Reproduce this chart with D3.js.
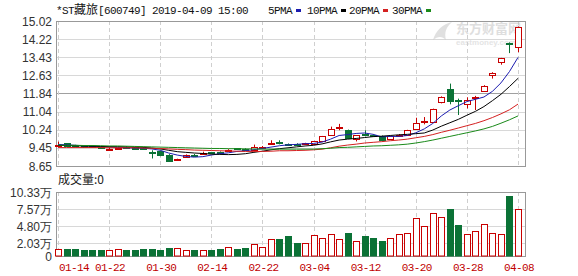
<!DOCTYPE html>
<html>
<head>
<meta charset="utf-8">
<script src="https://cdn.jsdelivr.net/npm/d3@7"></script>
<style>
  body { margin: 0; background: #fff; }
</style>
</head>
<body>
<div id="chart"></div>
<script>
// trading days shown (2019)
var dates = ["01-14","01-15","01-16","01-17","01-18","01-21","01-22","01-23","01-24","01-25",
  "01-28","01-29","01-30","01-31","02-01","02-11","02-12","02-13","02-14","02-15",
  "02-18","02-19","02-20","02-21","02-22","02-25","02-26","02-27","02-28","03-01",
  "03-04","03-05","03-06","03-07","03-08","03-11","03-12","03-13","03-14","03-15",
  "03-18","03-19","03-20","03-21","03-22","03-25","03-26","03-27","03-28","03-29",
  "04-01","04-02","04-03","04-04","04-08"];

var opens = [9.56,9.65,9.56,9.53,9.51,9.50,9.40,9.42,9.50,9.49,
  9.46,9.28,9.30,9.15,8.92,9.04,9.14,9.20,9.25,9.26,
  9.32,9.42,9.41,9.36,9.46,9.64,9.70,9.62,9.62,9.60,
  9.62,9.73,10.02,10.31,10.21,9.84,10.04,10.01,9.97,9.83,
  9.98,10.03,10.26,10.60,10.60,11.47,12.05,11.56,11.36,11.62,
  11.94,12.63,13.24,14.06,13.87];
var highs = [9.72,9.66,9.58,9.55,9.54,9.52,9.47,9.48,9.52,9.51,
  9.48,9.34,9.32,9.17,8.97,9.16,9.18,9.28,9.27,9.29,
  9.39,9.44,9.43,9.59,9.53,9.78,9.78,9.64,9.65,9.67,
  9.75,9.97,10.38,10.50,10.25,10.01,10.22,10.04,9.99,9.97,
  10.05,10.24,10.77,10.80,11.17,11.71,12.27,11.61,11.67,11.73,
  12.20,12.77,13.40,14.08,14.78];
var lows = [9.46,9.53,9.49,9.47,9.45,9.44,9.37,9.40,9.44,9.39,
  9.38,8.98,9.08,8.85,8.89,9.02,9.08,9.17,9.18,9.20,
  9.30,9.36,9.35,9.34,9.43,9.60,9.60,9.55,9.56,9.58,
  9.60,9.70,10.00,10.22,9.85,9.73,9.96,9.94,9.78,9.80,
  9.95,10.00,10.24,10.48,10.58,11.40,11.36,10.89,11.18,11.11,
  11.92,12.49,13.10,13.61,13.65];
var closes = [9.58,9.55,9.52,9.50,9.48,9.47,9.41,9.45,9.46,9.41,
  9.44,9.25,9.12,8.88,8.94,9.14,9.11,9.24,9.21,9.24,
  9.36,9.39,9.38,9.47,9.50,9.68,9.66,9.58,9.59,9.64,
  9.73,9.95,10.26,10.35,9.87,9.99,10.01,9.98,9.80,9.95,
  10.02,10.21,10.56,10.64,11.15,11.69,11.50,11.52,11.54,11.66,
  12.17,12.75,13.39,14.03,14.75];

// volume, in 万
var volumes = [1.18,1.18,1.18,1.02,1.02,1.02,0.96,1.15,1.02,1.02,
  1.15,1.15,1.02,1.34,1.29,0.96,1.02,0.96,1.02,1.18,
  1.45,1.18,1.34,1.88,1.45,2.68,2.79,3.22,2.14,2.09,
  3.32,2.89,3.48,2.68,3.70,2.41,3.22,2.89,2.41,2.84,
  3.48,3.70,6.06,4.77,6.86,6.22,7.61,4.98,3.48,4.02,
  5.09,3.64,3.48,9.65,7.66];

// moving averages
var ma5 = [9.60,9.58,9.56,9.54,9.53,9.50,9.48,9.46,9.45,9.44,
  9.43,9.40,9.34,9.22,9.13,9.07,9.04,9.06,9.13,9.19,
  9.23,9.29,9.32,9.37,9.42,9.48,9.54,9.58,9.60,9.63,
  9.64,9.70,9.83,9.99,10.03,10.08,10.10,10.04,9.93,9.95,
  9.95,9.99,10.11,10.28,10.52,10.85,11.11,11.30,11.48,11.58,
  11.68,11.93,12.30,12.80,13.42];
var ma10 = [9.55,9.55,9.54,9.53,9.52,9.51,9.50,9.50,9.49,9.48,
  9.47,9.44,9.40,9.34,9.28,9.25,9.22,9.20,9.17,9.16,
  9.15,9.16,9.19,9.25,9.30,9.36,9.41,9.45,9.49,9.53,
  9.56,9.62,9.71,9.79,9.83,9.86,9.90,9.94,9.96,9.99,
  10.02,10.04,10.07,10.10,10.23,10.40,10.55,10.70,10.88,11.05,
  11.26,11.52,11.80,12.14,12.50];
var ma20 = [9.46,9.46,9.46,9.46,9.46,9.46,9.45,9.45,9.45,9.45,
  9.44,9.43,9.42,9.40,9.38,9.37,9.35,9.34,9.33,9.32,
  9.31,9.30,9.29,9.29,9.29,9.30,9.32,9.32,9.33,9.34,
  9.36,9.39,9.45,9.52,9.57,9.61,9.66,9.69,9.72,9.76,
  9.79,9.83,9.89,9.95,10.03,10.13,10.22,10.32,10.42,10.52,
  10.64,10.78,10.94,11.12,11.37];
var ma30 = [9.57,9.56,9.56,9.55,9.55,9.54,9.53,9.53,9.52,9.51,
  9.50,9.49,9.48,9.47,9.46,9.45,9.44,9.43,9.42,9.42,
  9.41,9.41,9.40,9.40,9.39,9.39,9.39,9.39,9.39,9.39,
  9.39,9.41,9.43,9.46,9.47,9.49,9.51,9.53,9.54,9.56,
  9.58,9.61,9.66,9.72,9.79,9.87,9.95,10.03,10.11,10.19,
  10.28,10.39,10.53,10.68,10.85];

var priceTicks = [15.02, 14.22, 13.43, 12.63, 11.84, 11.04, 10.24, 9.45, 8.65];
var volTicks = [10.33, 7.57, 4.80, 2.03, 0];
var xLabels = ["01-14","01-22","01-30","02-14","02-22","03-04","03-12","03-20","03-28","04-08"];

var maNames = ["5PMA", "10PMA", "20PMA", "30PMA"];
var maColors = ["#1c1cb0", "#000000", "#d42020", "#1a8a1a"];

var upColor = "#c80000",
  downColor = "#0b7236",
  monoFont = "'Liberation Mono', 'DejaVu Sans Mono', monospace",
  numFont = "'Liberation Sans', Arial, sans-serif",
  cjkFont = "'Noto Sans CJK SC', sans-serif";

var W = 578, H = 276;
var plot = { left: 56, right: 525, top: 21, bottom: 166 };
var vplot = { top: 192, bottom: 256 };

var svg = d3
  .select("#chart")
  .append("svg")
  .attr("width", W)
  .attr("height", H)
  .style("display", "block");

svg.append("rect").attr("width", W).attr("height", H).attr("fill", "#fff");

var x = d3.scalePoint().domain(dates).range([58, 518]);
var yPrice = d3.scaleLinear().domain([8.65, 15.02]).range([plot.bottom, plot.top]);
var yVol = d3.scaleLinear().domain([0, 10.33]).range([vplot.bottom, vplot.top]);

function crisp(v) {
  return Math.round(v) + 0.5;
}

// ---------- grids ----------
svg
  .append("g")
  .selectAll("line")
  .data(priceTicks)
  .enter()
  .append("line")
  .attr("x1", plot.left)
  .attr("x2", plot.right)
  .attr("y1", function (d) { return crisp(yPrice(d)); })
  .attr("y2", function (d) { return crisp(yPrice(d)); })
  .attr("stroke", function (d, i) { return i == 4 ? "#a0a0a0" : "#d8d8d8"; })
  .attr("stroke-width", 1);

svg
  .append("g")
  .selectAll("line")
  .data(volTicks)
  .enter()
  .append("line")
  .attr("x1", plot.left)
  .attr("x2", plot.right)
  .attr("y1", function (d) { return crisp(yVol(d)); })
  .attr("y2", function (d) { return crisp(yVol(d)); })
  .attr("stroke", "#d8d8d8")
  .attr("stroke-width", 1);

var vgrid = svg.append("g");
[[plot.top, plot.bottom], [vplot.top, vplot.bottom]].forEach(function (r) {
  vgrid
    .append("g")
    .selectAll("line")
    .data(xLabels)
    .enter()
    .append("line")
    .attr("x1", function (d) { return crisp(x(d)); })
    .attr("x2", function (d) { return crisp(x(d)); })
    .attr("y1", r[0])
    .attr("y2", r[1])
    .attr("stroke", "#cfcfcf")
    .attr("stroke-dasharray", "4,3");
});

// frames
svg
  .append("rect")
  .attr("x", plot.left + 0.5)
  .attr("y", plot.top + 0.5)
  .attr("width", plot.right - plot.left)
  .attr("height", plot.bottom - plot.top)
  .attr("fill", "none")
  .attr("stroke", "#999");
svg
  .append("rect")
  .attr("x", plot.left + 0.5)
  .attr("y", vplot.top + 0.5)
  .attr("width", plot.right - plot.left)
  .attr("height", vplot.bottom - vplot.top)
  .attr("fill", "none")
  .attr("stroke", "#999");

// ---------- watermark ----------
var wm = svg.append("g").attr("opacity", 0.55);
wm.append("path")
  .attr("d", "M433,40 C436,30 443,24 452,22 C446,27 444,33 446,40 C442,36 438,36 433,40 Z")
  .attr("fill", "#c8c8c8");
wm.append("text")
  .attr("x", 456)
  .attr("y", 33)
  .attr("font-family", cjkFont)
  .attr("font-weight", "bold")
  .attr("font-size", 13)
  .attr("fill", "#c4c4c4")
  .text("东方财富网");
wm.append("text")
  .attr("x", 456)
  .attr("y", 45)
  .attr("font-family", numFont)
  .attr("font-weight", "bold")
  .attr("font-size", 8)
  .attr("fill", "#cfcfcf")
  .text("eastmoney.com");

// ---------- candles ----------
var candles = svg.append("g");
dates.forEach(function (d, i) {
  var up = closes[i] >= opens[i];
  var col = up ? upColor : downColor;
  var cx = crisp(x(d));
  candles
    .append("line")
    .attr("x1", cx)
    .attr("x2", cx)
    .attr("y1", yPrice(highs[i]))
    .attr("y2", yPrice(lows[i]))
    .attr("stroke", col);
  var top = Math.round(yPrice(Math.max(opens[i], closes[i])));
  var bot = Math.round(yPrice(Math.min(opens[i], closes[i])));
  var h = Math.max(bot - top, 1);
  if (up) {
    candles
      .append("rect")
      .attr("x", cx - 3)
      .attr("y", top + 0.5)
      .attr("width", 6)
      .attr("height", h)
      .attr("fill", "#fff")
      .attr("stroke", col);
  } else {
    candles
      .append("rect")
      .attr("x", cx - 3.5)
      .attr("y", top)
      .attr("width", 7)
      .attr("height", h + 1)
      .attr("fill", col);
  }
});

// ---------- moving averages ----------
[ma5, ma10, ma20, ma30].forEach(function (arr, k) {
  var line = d3
    .line()
    .x(function (v, i) { return x(dates[i]); })
    .y(function (v) { return yPrice(v); });
  svg
    .append("path")
    .datum(arr)
    .attr("d", line)
    .attr("fill", "none")
    .attr("stroke", maColors[k])
    .attr("stroke-width", 1);
});

// ---------- volume ----------
var vbars = svg.append("g");
dates.forEach(function (d, i) {
  var up = closes[i] >= opens[i];
  var cx = crisp(x(d));
  var top = Math.round(yVol(volumes[i]));
  if (up) {
    vbars
      .append("rect")
      .attr("x", cx - 3)
      .attr("y", top + 0.5)
      .attr("width", 6)
      .attr("height", vplot.bottom - top - 0.5)
      .attr("fill", "#fff")
      .attr("stroke", upColor);
  } else {
    vbars
      .append("rect")
      .attr("x", cx - 3.5)
      .attr("y", top)
      .attr("width", 7)
      .attr("height", vplot.bottom - top + 0.5)
      .attr("fill", downColor);
  }
});

// ---------- axis labels ----------
svg
  .append("g")
  .selectAll("text")
  .data(priceTicks)
  .enter()
  .append("text")
  .attr("x", 52)
  .attr("y", function (d) { return yPrice(d) + 4.5; })
  .attr("text-anchor", "end")
  .attr("font-family", numFont)
  .attr("font-size", 12)
  .attr("fill", "#333")
  .text(function (d) { return d.toFixed(2); });

svg
  .append("g")
  .selectAll("text")
  .data(volTicks)
  .enter()
  .append("text")
  .attr("x", 52)
  .attr("y", function (d) { return yVol(d) + 4.5; })
  .attr("text-anchor", "end")
  .attr("font-family", numFont)
  .attr("font-size", 12)
  .attr("fill", "#333")
  .text(function (d) { return d == 0 ? "0" : d.toFixed(2) + "万"; });

svg
  .append("g")
  .selectAll("text")
  .data(xLabels)
  .enter()
  .append("text")
  .attr("x", function (d, i) { return i == 0 ? plot.left + 3 : x(d) + 1; })
  .attr("y", 271)
  .attr("text-anchor", function (d, i) { return i == 0 ? "start" : "middle"; })
  .attr("font-family", monoFont)
  .attr("font-size", 11)
  .attr("letter-spacing", -0.6)
  .attr("fill", "#c00000")
  .text(function (d) { return d; });

// ---------- title + legend ----------
var title = svg
  .append("text")
  .attr("x", 56)
  .attr("y", 14)
  .attr("font-family", monoFont)
  .attr("font-size", 11)
  .attr("letter-spacing", -0.6)
  .attr("fill", "#111");
title.append("tspan").text("*ST");
title.append("tspan").attr("font-family", cjkFont).attr("font-size", 12).attr("letter-spacing", 0).text("藏旅");
title.append("tspan").text("[600749] 2019-04-09 15:00");

var legendX = [268, 307, 349, 392];
var legendW = [25, 31, 31, 31];
maNames.forEach(function (n, k) {
  svg
    .append("text")
    .attr("x", legendX[k])
    .attr("y", 14)
    .attr("font-family", monoFont)
    .attr("font-size", 11)
    .attr("letter-spacing", -0.6)
    .attr("fill", "#111")
    .text(n);
  svg
    .append("rect")
    .attr("x", legendX[k] + legendW[k] + 3)
    .attr("y", 9)
    .attr("width", 5)
    .attr("height", 3)
    .attr("fill", maColors[k]);
});

svg
  .append("text")
  .attr("x", 58)
  .attr("y", 184)
  .attr("font-family", cjkFont)
  .attr("font-size", 12)
  .attr("fill", "#222")
  .text("成交量:0");
</script>
</body>
</html>
